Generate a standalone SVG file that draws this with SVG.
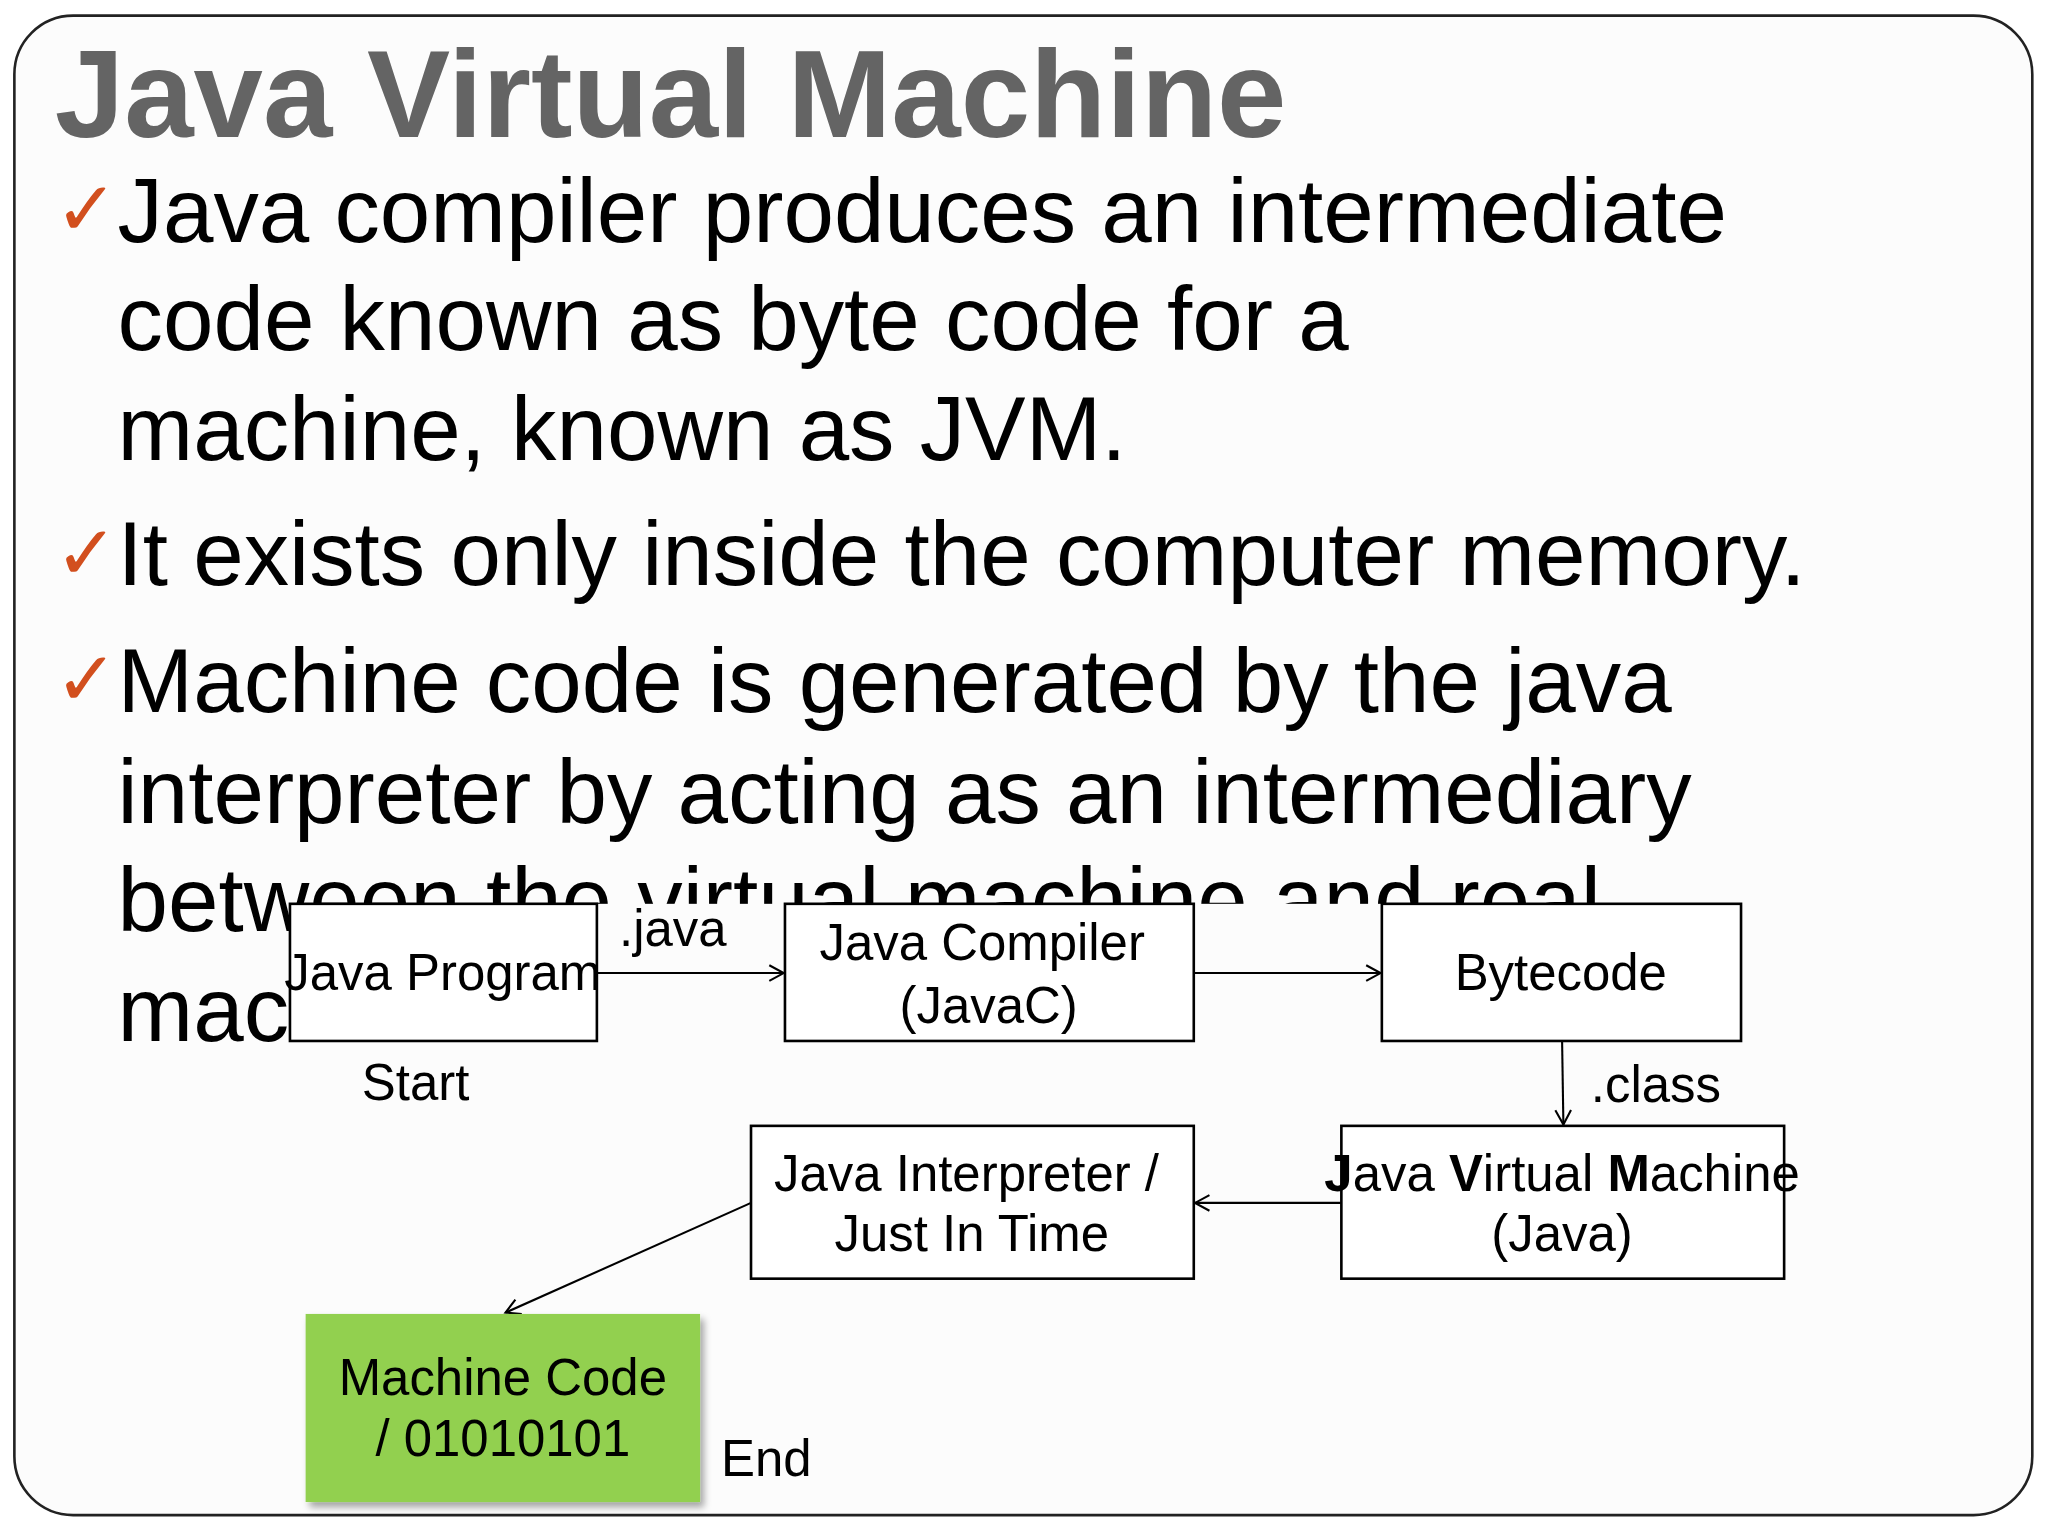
<svg xmlns="http://www.w3.org/2000/svg" width="2048" height="1536" viewBox="0 0 2048 1536">
<style>
.t{font-family:"Liberation Sans",Arial,sans-serif;fill:#000}
.b{font-size:69.5px}
.n{font-size:39px;text-anchor:middle}
.l{font-size:39px}
.ck{font-family:"DejaVu Sans",sans-serif;font-size:58px;font-weight:bold;fill:#D24F1E}
.box{fill:#fff;stroke:#000;stroke-width:2}
.c{stroke:#000;stroke-width:1.6;fill:none;marker-end:url(#a)}
</style>
<defs>
<marker id="a" markerWidth="14" markerHeight="14" refX="12" refY="7" orient="auto" markerUnits="userSpaceOnUse"><path d="M1,1 L12,7 L1,13" fill="none" stroke="#000" stroke-width="1.6"/></marker>
<filter id="sh"><feDropShadow dx="3" dy="4" stdDeviation="3" flood-opacity="0.35"/></filter>
</defs>
<rect width="2048" height="1536" fill="#fff"/>
<g transform="scale(1.3061)">
<rect x="11" y="12" width="1545" height="1148" rx="45" fill="#fcfcfc" stroke="#222" stroke-width="2"/>
<text x="42" y="105" font-family="Liberation Sans,Arial,sans-serif" font-weight="bold" font-size="95.5" fill="#646464">Java Virtual Machine</text>
<text class="ck" x="42" y="180">✓</text>
<text class="ck" x="42" y="443">✓</text>
<text class="ck" x="42" y="540">✓</text>
<text class="t b" x="90" y="185">Java compiler produces an intermediate</text>
<text class="t b" x="90" y="268">code known as byte code for a</text>
<text class="t b" x="90" y="352">machine, known as JVM.</text>
<text class="t b" x="90" y="448">It exists only inside the computer memory.</text>
<text class="t b" x="90" y="545">Machine code is generated by the java</text>
<text class="t b" x="90" y="630">interpreter by acting as an intermediary</text>
<text class="t b" x="90" y="713">between the virtual machine and real</text>
<text class="t b" x="90" y="797">machine.</text>
<rect x="222" y="692" width="1112" height="110" fill="#fcfcfc"/>
<g id="connectors">
<line class="c" x1="457" y1="745" x2="600" y2="745"/>
<line class="c" x1="914" y1="745" x2="1057" y2="745"/>
<line class="c" x1="1196" y1="797" x2="1197" y2="861"/>
<line class="c" x1="1027" y1="921" x2="915" y2="921"/>
<line class="c" x1="575" y1="921" x2="387" y2="1005"/>
</g>
<g id="javaprogram"><rect class="box" x="222" y="692" width="235" height="105"/><text class="t n" x="339" y="758">Java Program</text></g>
<g id="compiler"><rect class="box" x="601" y="692" width="313" height="105"/><text class="t n" x="752" y="735">Java Compiler</text><text class="t n" x="757" y="783">(JavaC)</text></g>
<g id="bytecode"><rect class="box" x="1058" y="692" width="275" height="105"/><text class="t n" x="1195" y="758">Bytecode</text></g>
<g id="jvm"><rect class="box" x="1027" y="862" width="339" height="117"/><text class="t n" x="1196" y="912"><tspan font-weight="bold">J</tspan>ava <tspan font-weight="bold">V</tspan>irtual <tspan font-weight="bold">M</tspan>achine</text><text class="t n" x="1196" y="958">(Java)</text></g>
<g id="interpreter"><rect class="box" x="575" y="862" width="339" height="117"/><text class="t n" x="740" y="912">Java Interpreter /</text><text class="t n" x="744" y="958">Just In Time</text></g>
<g id="machinecode"><rect x="234" y="1006" width="302" height="144" fill="#92D050" filter="url(#sh)"/><text class="t n" x="385" y="1068">Machine Code</text><text class="t n" x="385" y="1115">/ 01010101</text></g>
<text class="t l" x="474" y="724">.java</text>
<text class="t l" x="277" y="842">Start</text>
<text class="t l" x="1218" y="844">.class</text>
<text class="t l" x="552" y="1130">End</text>
</g>
</svg>
